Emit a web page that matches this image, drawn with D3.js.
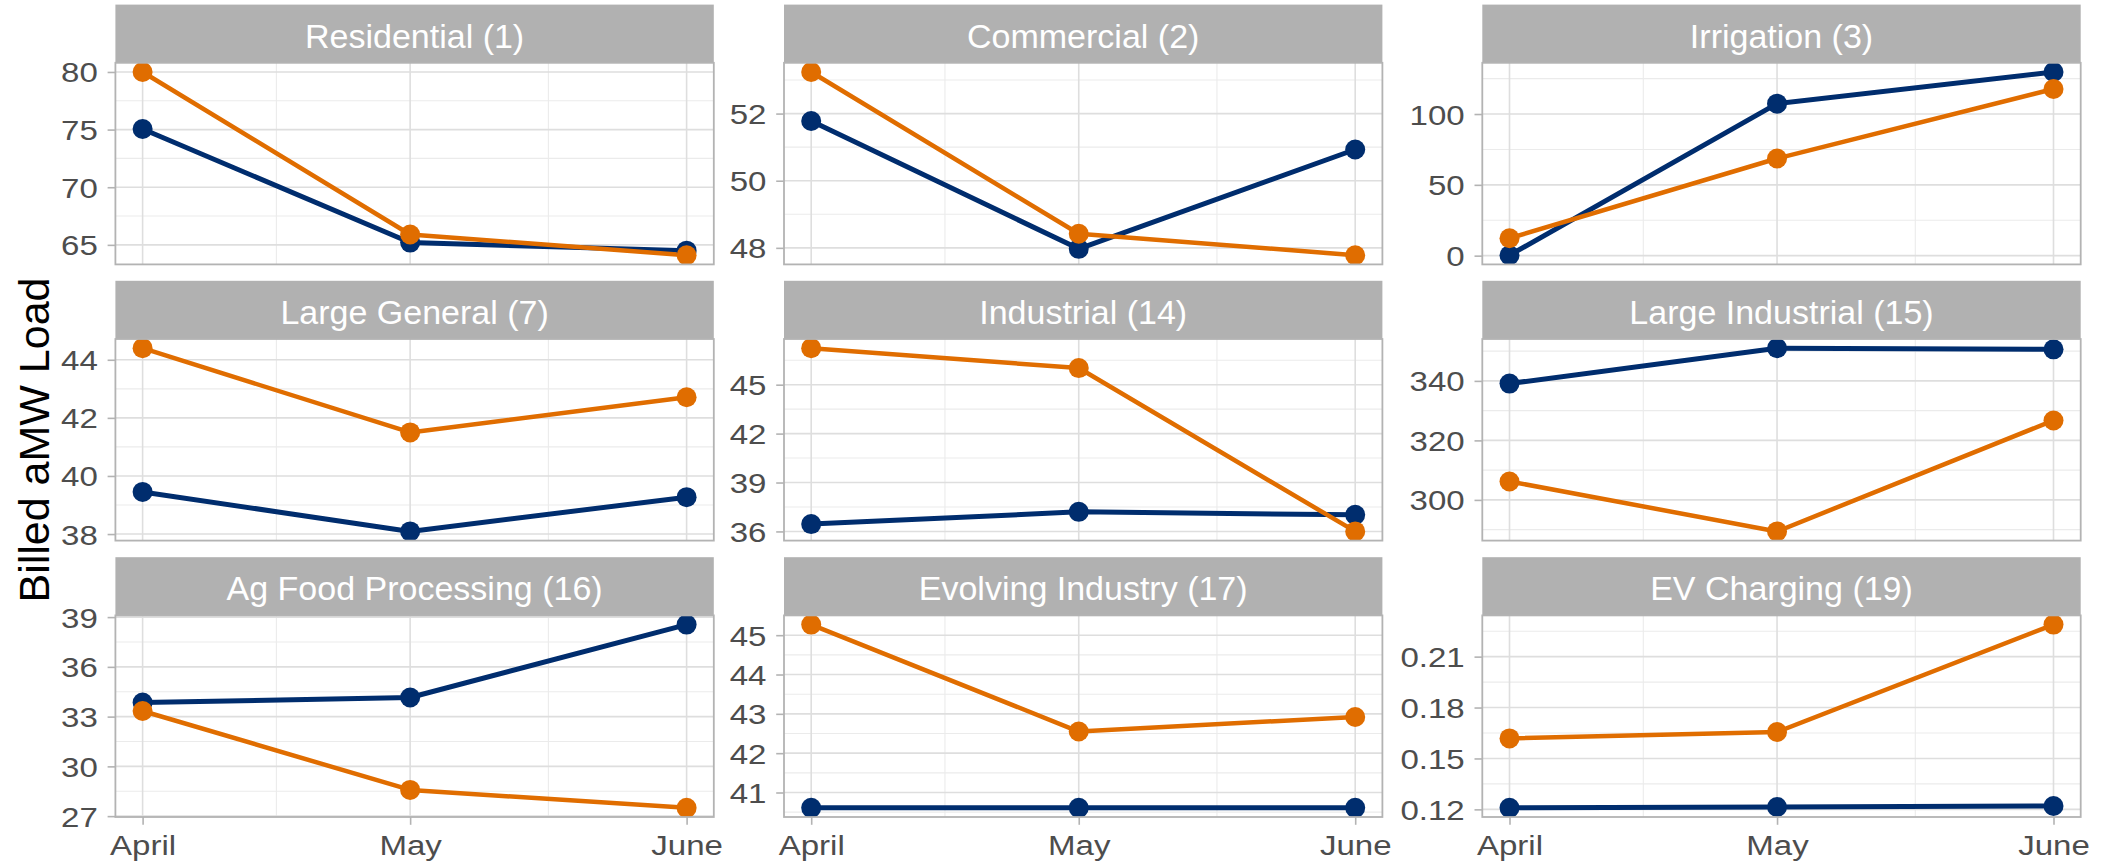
<!DOCTYPE html>
<html>
<head>
<meta charset="utf-8">
<script src="https://cdn.jsdelivr.net/npm/d3@7"></script>
<style>
  html, body { margin: 0; padding: 0; background: #ffffff; }
  svg { display: block; }
  text { font-family: "Liberation Sans", Arial, Helvetica, sans-serif; }
</style>
</head>
<body>
<svg id="chart" width="2115" height="867"></svg>
<script>
// ---- data ----
const categories = [
  "Residential (1)", "Commercial (2)", "Irrigation (3)",
  "Large General (7)", "Industrial (14)", "Large Industrial (15)",
  "Ag Food Processing (16)", "Evolving Industry (17)", "EV Charging (19)"
];
const months = ["April", "May", "June"];
const monthIndex = [3, 4, 5];

// first series (navy), one row per rate class, April..June
const navyValues = [
  [75.05, 65.2, 64.5],
  [51.78, 47.97, 50.93],
  [0.3, 107.3, 129.7],
  [39.45, 38.09, 39.27],
  [36.45, 37.2, 37.02],
  [339.1, 351.0, 350.6],
  [33.85, 34.15, 38.55],
  [40.61, 40.61, 40.61],
  [0.1209, 0.1214, 0.1220]
];
// second series (orange)
const orangeValues = [
  [80.0, 65.9, 64.1],
  [53.24, 48.42, 47.78],
  [12.3, 68.6, 117.7],
  [44.40, 41.50, 42.71],
  [47.24, 46.02, 36.0],
  [306.2, 289.4, 326.7],
  [33.34, 28.58, 27.5],
  [45.27, 42.55, 42.92],
  [0.1618, 0.1656, 0.2289]
];
// y-axis tick values per panel
const yTicks = [
  [65, 70, 75, 80],
  [48, 50, 52],
  [0, 50, 100],
  [38, 40, 42, 44],
  [36, 39, 42, 45],
  [300, 320, 340],
  [27, 30, 33, 36, 39],
  [41, 42, 43, 44, 45],
  [0.12, 0.15, 0.18, 0.21]
];
const yTitle = "Billed aMW Load";

// ---- layout & style ----
const colLeft = [115.4, 784, 1482.3];
const panelW = 598.4;
const rowTop = [4.6, 280.8, 557.2];
const stripH = 58.2;
const panelH = 201.6;
const navy = "#002D6E";
const orange = "#E06D00";
const tickFont = 28, tickStretch = 1.18;
const navyLineW = 5, orangeLineW = 4.5, pointR = 10;

const svg = d3.select("#chart");
const dates = monthIndex.map(m => new Date(Date.UTC(2024, m, 1)));
const span = dates[2] - dates[0];
const x = d3.scaleUtc()
  .domain([new Date(+dates[0] - span * 0.05), new Date(+dates[2] + span * 0.05)])
  .range([0, panelW]);
const xMinor = [new Date((+dates[0] + +dates[1]) / 2), new Date((+dates[1] + +dates[2]) / 2)];

categories.forEach((cat, i) => {
  const col = i % 3, row = Math.floor(i / 3);
  const left = colLeft[col];
  const top = rowTop[row] + stripH;
  const s1 = navyValues[i], s2 = orangeValues[i];
  const all = s1.concat(s2);
  const lo = d3.min(all), hi = d3.max(all), r = hi - lo;
  const y = d3.scaleLinear().domain([lo - 0.05 * r, hi + 0.05 * r]).range([panelH, 0]);

  const ticks = yTicks[i];
  const step = ticks[1] - ticks[0];
  const minor = [ticks[0] - step / 2]
    .concat(ticks.slice(1).map((t, k) => (t + ticks[k]) / 2))
    .concat([ticks[ticks.length - 1] + step / 2])
    .filter(v => v >= y.domain()[0] && v <= y.domain()[1]);

  // strip
  svg.append("rect")
    .attr("x", left).attr("y", rowTop[row])
    .attr("width", panelW).attr("height", stripH)
    .attr("fill", "#B1B1B1");
  svg.append("text")
    .attr("x", left + panelW / 2).attr("y", rowTop[row] + 43)
    .attr("text-anchor", "middle")
    .attr("font-size", 34).attr("fill", "#ffffff")
    .text(cat);

  const g = svg.append("g").attr("transform", `translate(${left},${top})`);
  const clipId = "clip" + i;
  g.append("clipPath").attr("id", clipId)
    .append("rect").attr("width", panelW).attr("height", panelH);

  g.append("rect").attr("width", panelW).attr("height", panelH).attr("fill", "#ffffff");

  // grid
  const grid = g.append("g");
  grid.selectAll(".ymin").data(minor).join("line")
    .attr("x1", 0).attr("x2", panelW)
    .attr("y1", d => y(d)).attr("y2", d => y(d))
    .attr("stroke", "#EBEBEB").attr("stroke-width", 1.1);
  grid.selectAll(".xmin").data(xMinor).join("line")
    .attr("y1", 0).attr("y2", panelH)
    .attr("x1", d => x(d)).attr("x2", d => x(d))
    .attr("stroke", "#EBEBEB").attr("stroke-width", 1.1);
  grid.selectAll(".ymaj").data(ticks).join("line")
    .attr("x1", 0).attr("x2", panelW)
    .attr("y1", d => y(d)).attr("y2", d => y(d))
    .attr("stroke", "#DEDEDE").attr("stroke-width", 1.6);
  grid.selectAll(".xmaj").data(dates).join("line")
    .attr("y1", 0).attr("y2", panelH)
    .attr("x1", d => x(d)).attr("x2", d => x(d))
    .attr("stroke", "#DEDEDE").attr("stroke-width", 1.6);

  // series: lines first, then points
  const line = d3.line().x((d, k) => x(dates[k])).y(d => y(d));
  const marks = g.append("g").attr("clip-path", `url(#${clipId})`);
  [[s1, navy, navyLineW], [s2, orange, orangeLineW]].forEach(([vals, c, w]) => {
    marks.append("path").datum(vals)
      .attr("d", line).attr("fill", "none")
      .attr("stroke", c).attr("stroke-width", w)
      .attr("stroke-linejoin", "round");
  });
  [[s1, navy], [s2, orange]].forEach(([vals, c]) => {
    marks.selectAll(null).data(vals).join("circle")
      .attr("cx", (d, k) => x(dates[k])).attr("cy", d => y(d))
      .attr("r", pointR).attr("fill", c);
  });

  // border
  g.append("rect").attr("width", panelW).attr("height", panelH)
    .attr("fill", "none").attr("stroke", "#B3B3B3").attr("stroke-width", 1.8);

  // y axis
  const ya = g.append("g").call(d3.axisLeft(y).tickValues(ticks).tickSize(7.8).tickPadding(9).tickFormat(d => String(d)));
  ya.select(".domain").remove();
  ya.selectAll(".tick line").attr("stroke", "#B3B3B3").attr("stroke-width", 1.6);
  ya.selectAll(".tick text")
    .attr("font-family", null)
    .attr("font-size", tickFont).attr("fill", "#4D4D4D")
    .attr("dy", null).attr("y", 10)
    .attr("x", -17.6 / tickStretch)
    .attr("transform", `scale(${tickStretch},1)`);

  // x axis on bottom row
  if (row === 2) {
    const xa = g.append("g").attr("transform", `translate(0,${panelH})`)
      .call(d3.axisBottom(x).tickValues(dates).tickSize(7.8).tickPadding(0)
        .tickFormat((d, k) => months[k]));
    xa.select(".domain").remove();
    xa.selectAll(".tick line").attr("stroke", "#B3B3B3").attr("stroke-width", 1.6);
    xa.selectAll(".tick text")
      .attr("font-family", null)
      .attr("font-size", tickFont).attr("fill", "#4D4D4D")
      .attr("dy", null).attr("y", 38)
      .attr("transform", `scale(${tickStretch},1)`);
  }
});

// y-axis title
svg.append("text")
  .attr("transform", "translate(49,440) rotate(-90)")
  .attr("text-anchor", "middle")
  .attr("font-size", 43).attr("fill", "#000000")
  .text(yTitle);
</script>
</body>
</html>
